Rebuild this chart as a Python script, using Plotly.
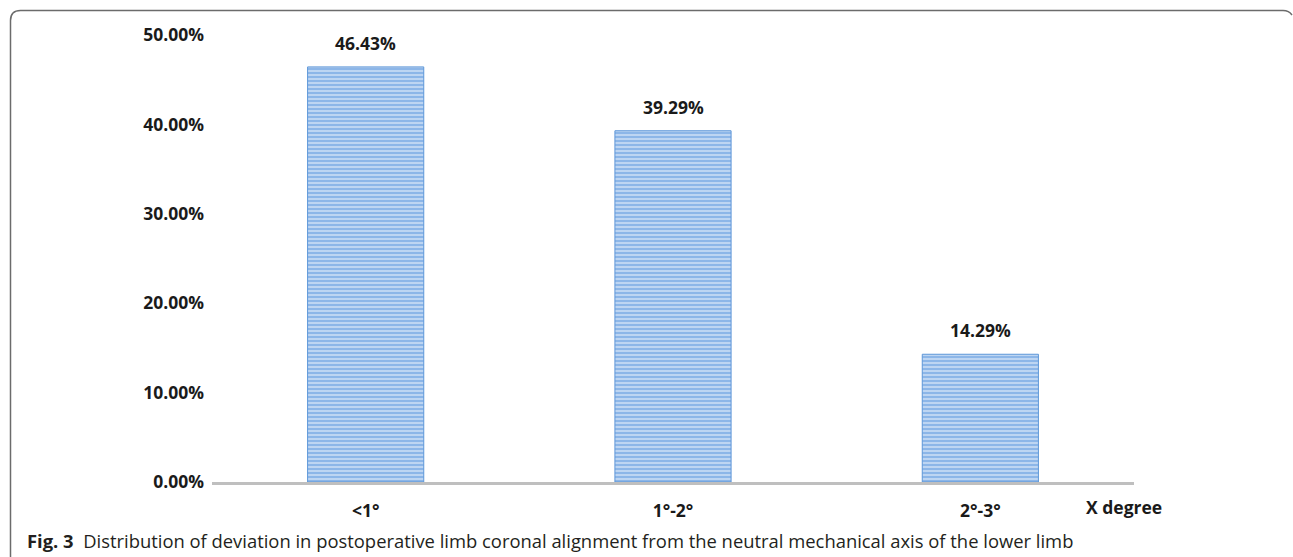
import plotly.graph_objects as go

# Deviation classes and share of limbs in each class (%)
categories = ["<1°", "1°-2°", "2°-3°"]
shares = [46.43, 39.29, 14.29]
y_ticks = [0, 10, 20, 30, 40, 50]
y_tick_labels = [f"{v:.2f}%" for v in y_ticks]
axis_title = "X degree"
caption_head = "Fig. 3"
caption_body = ("Distribution of deviation in postoperative limb coronal alignment "
                "from the neutral mechanical axis of the lower limb")

W, H = 1293, 557
L, R, T, B = 212, 159, 35, 75
PW, PH = W - L - R, H - T - B


def px_x(p):
    return (p - L) / PW


def px_y(p):
    return (H - B - p) / PH


bold = dict(family="Open Sans", size=17.5, color="#1a1a1a")

fig = go.Figure()
fig.add_trace(go.Bar(
    x=categories,
    y=shares,
    marker=dict(
        color="#BBD3F1",
        line=dict(color="#5E97D8", width=1),
        pattern=dict(shape="-", fgcolor="#5C98DE", bgcolor="#BDD5F2",
                     size=4, solidity=0.5),
    ),
    width=0.378,
    hoverinfo="skip",
))

# value labels above the bars
for c, v in zip(categories, shares):
    fig.add_annotation(x=c, y=v, text=f"<b>{v:.2f}%</b>", showarrow=False,
                       yanchor="bottom", yshift=10, font=bold)

fig.add_annotation(x=px_x(1124), y=px_y(507), xref="paper", yref="paper",
                   text=f"<b>{axis_title}</b>", showarrow=False,
                   xanchor="center", yanchor="middle", font=bold)

fig.add_annotation(x=px_x(25), y=px_y(540), xref="paper", yref="paper",
                   text=f"<b>{caption_head}</b>  {caption_body}", showarrow=False,
                   xanchor="left", yanchor="middle",
                   font=dict(family="Open Sans", size=18.4, color="#231f20"))

# rounded figure frame
r = 10
frame = (f"M {px_x(10.5)},{px_y(570)} L {px_x(10.5)},{px_y(10.5 + r)} "
         f"Q {px_x(10.5)},{px_y(10.5)} {px_x(10.5 + r)},{px_y(10.5)} "
         f"L {px_x(1283)},{px_y(10.5)} "
         f"Q {px_x(1289)},{px_y(10.5)} {px_x(1292)},{px_y(15)}")
fig.add_shape(type="path", path=frame, xref="paper", yref="paper",
              line=dict(color="#6b6b6b", width=1.5))

fig.update_layout(
    width=W, height=H,
    margin=dict(l=L, r=R, t=T, b=B),
    paper_bgcolor="white", plot_bgcolor="white",
    showlegend=False,
    xaxis=dict(
        showline=True, linecolor="#BFBFBF", linewidth=3,
        showgrid=False, zeroline=False,
        tickvals=categories, ticktext=[f"<b>{c}</b>" for c in categories],
        ticks="", tickfont=bold, ticklabelstandoff=11,
    ),
    yaxis=dict(
        range=[0, 50], tickvals=y_ticks, ticktext=[f"<b>{t}</b>" for t in y_tick_labels],
        showgrid=False, zeroline=False, showline=False,
        ticks="", tickfont=bold, ticklabelstandoff=7,
    ),
)

fig.write_html("out.html")
